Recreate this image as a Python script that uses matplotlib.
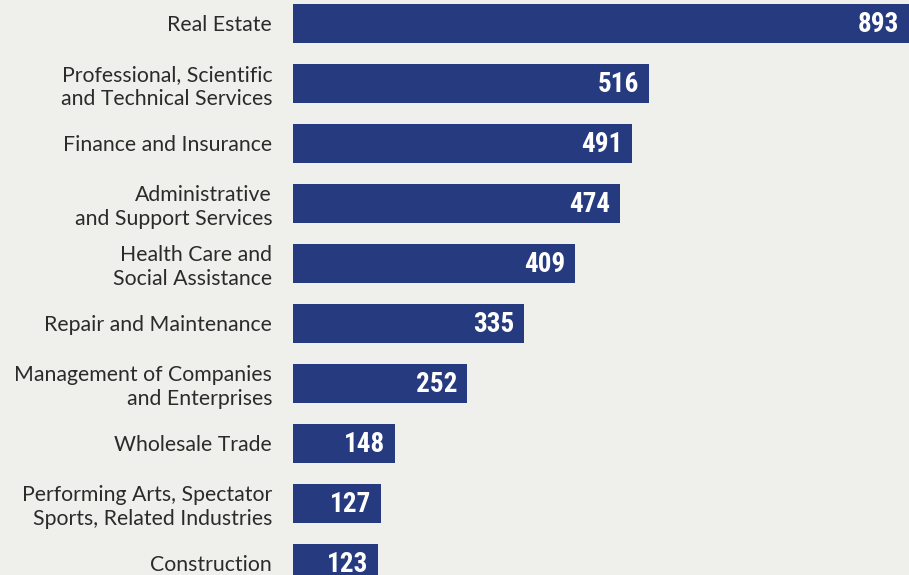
import matplotlib.pyplot as plt
from matplotlib import font_manager

# industries (top to bottom) and their values
industries = [
    'Real Estate',
    'Professional, Scientific\nand Technical Services',
    'Finance and Insurance',
    'Administrative\nand Support Services',
    'Health Care and\nSocial Assistance',
    'Repair and Maintenance',
    'Management of Companies\nand Enterprises',
    'Wholesale Trade',
    'Performing Arts, Spectator\nSports, Related Industries',
    'Construction',
]
values = [893, 516, 491, 474, 409, 335, 252, 148, 127, 123]

BG = '#EFEFEB'
BAR = '#263A80'

# pick a narrow face for the value labels if one is around
names = {f.name for f in font_manager.fontManager.ttflist}
narrow = [n for n in ['Roboto Condensed', 'Liberation Sans Narrow',
                      'DejaVu Sans Condensed'] if n in names]

fig = plt.figure(figsize=(9.09, 5.75), dpi=100, facecolor=BG)
ax = fig.add_axes([293 / 909, 0, 616 / 909, 1])
ax.set_facecolor(BG)

pos = list(range(len(values)))
ax.barh(pos, values, height=0.65, color=BAR)

ax.set_xlim(0, 893)
ax.set_ylim(9.2, -23 / 60)

for p, v in zip(pos, values):
    ax.text(v - 14, p + 0.02, str(v), ha='right', va='center', color='white',
            fontsize=19.5, fontweight='bold', fontstretch='condensed',
            family=narrow + ['DejaVu Sans'])

ax.set_yticks(pos)
ax.set_yticklabels(industries, fontsize=15.3, color='#2b2b2b',
                   family=['Lato', 'DejaVu Sans'], linespacing=1.24)
ax.tick_params(axis='y', length=0, pad=15)
ax.set_xticks([])
for s in ax.spines.values():
    s.set_visible(False)

fig.savefig('out.png', dpi=100, facecolor=BG)
